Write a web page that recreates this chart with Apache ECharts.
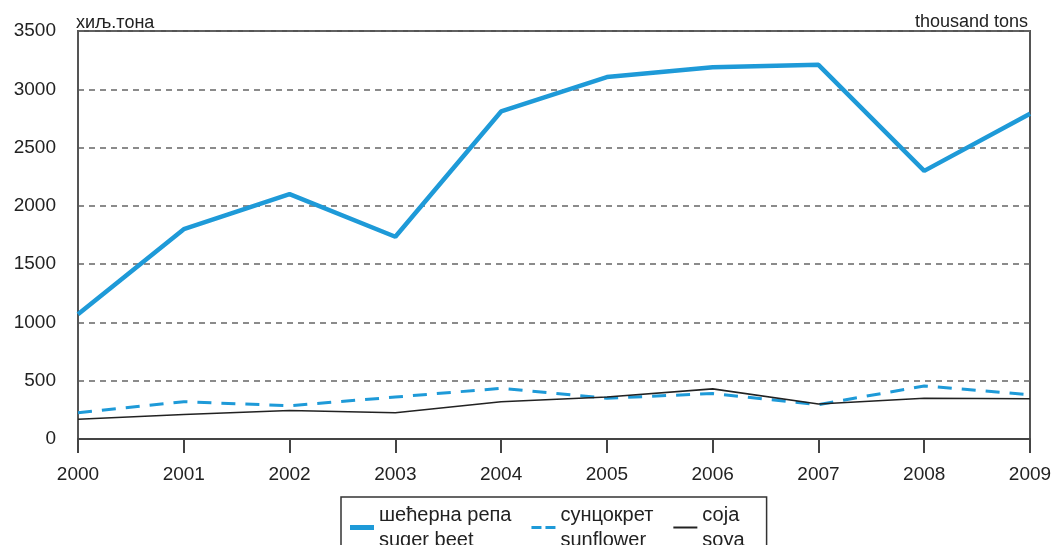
<!DOCTYPE html>
<html>
<head>
<meta charset="utf-8">
<script src="https://cdn.jsdelivr.net/npm/echarts@6/dist/echarts.min.js"></script>
<style>
  html, body { margin: 0; padding: 0; background: #fff; }
  #chart { width: 1055px; height: 545px; }
</style>
</head>
<body>
<div id="chart"></div>
<script>
  // years on the x axis
  let years = ['2000', '2001', '2002', '2003', '2004', '2005', '2006', '2007', '2008', '2009'];

  // production, thousand tons
  let sugarBeet = [1070, 1800, 2100, 1735, 2810, 3105, 3190, 3210, 2300, 2790];
  let sunflower = [225, 320, 285, 360, 435, 350, 390, 295, 455, 380];
  let soya      = [170, 210, 245, 225, 320, 360, 430, 300, 350, 345];

  let legendNames = {
    'шећерна репа': 'suger beet',
    'сунцокрет': 'sunflower',
    'соја': 'soya'
  };

  let font = 'Liberation Sans, Arial, sans-serif';
  let blue = '#1e9ad8';

  let chart = echarts.init(document.getElementById('chart'));

  let option = {
    animation: false,
    title: [
      {
        text: 'хиљ.тона',
        left: 76, top: 14, padding: 0,
        textStyle: { fontFamily: font, fontSize: 18, fontWeight: 'normal', color: '#222' }
      },
      {
        text: 'thousand tons',
        right: 27, top: 13, padding: 0,
        textStyle: { fontFamily: font, fontSize: 18, fontWeight: 'normal', color: '#222' }
      }
    ],
    grid: {
      left: 78, right: 25, top: 31, bottom: 106,
      show: true,
      borderColor: '#555',
      borderWidth: 2
    },
    legend: {
      left: 341, top: 497,
      orient: 'horizontal',
      borderColor: '#333',
      borderWidth: 1.5,
      borderRadius: 0,
      padding: [8, 22, 40, 9],
      itemWidth: 24,
      itemHeight: 14,
      itemGap: 20,
      symbolKeepAspect: true,
      formatter: function(name) {
        return name + '\n' + legendNames[name];
      },
      textStyle: {
        fontFamily: font, fontSize: 20, color: '#222',
        lineHeight: 25,
        padding: [0, 0, -25, 0]
      },
      data: [
        { name: 'шећерна репа', icon: 'path://M0,0h24v5h-24z' },
        { name: 'сунцокрет', icon: 'path://M0,0h10v3h-10z M14,0h10v3h-10z' },
        { name: 'соја', icon: 'path://M0,0h24v2h-24z' }
      ]
    },
    xAxis: {
      type: 'category',
      data: years,
      boundaryGap: false,
      axisLine: { lineStyle: { color: '#444', width: 2 } },
      axisTick: { show: true, length: 14, lineStyle: { color: '#444', width: 2 } },
      axisLabel: { fontFamily: font, fontSize: 19, color: '#222', margin: 26 }
    },
    yAxis: {
      type: 'value',
      min: 0, max: 3500, interval: 500,
      axisLine: { show: true, lineStyle: { color: '#555', width: 2 } },
      axisTick: { show: false },
      axisLabel: {
        fontFamily: font, fontSize: 19, color: '#222', margin: 22,
        formatter: function(v) { return String(v); }
      },
      splitLine: { lineStyle: { color: '#666', width: 1.5, type: [6, 5] } }
    },
    series: [
      {
        name: 'шећерна репа',
        type: 'line',
        data: sugarBeet,
        symbol: 'none',
        color: blue,
        lineStyle: { color: blue, width: 4.5 },
        z: 4
      },
      {
        name: 'сунцокрет',
        type: 'line',
        data: sunflower,
        symbol: 'none',
        color: blue,
        lineStyle: { color: blue, width: 3, type: [14, 10] },
        z: 3
      },
      {
        name: 'соја',
        type: 'line',
        data: soya,
        symbol: 'none',
        color: '#222',
        lineStyle: { color: '#222', width: 1.6 },
        z: 3
      }
    ]
  };

  chart.setOption(option);
</script>
</body>
</html>
